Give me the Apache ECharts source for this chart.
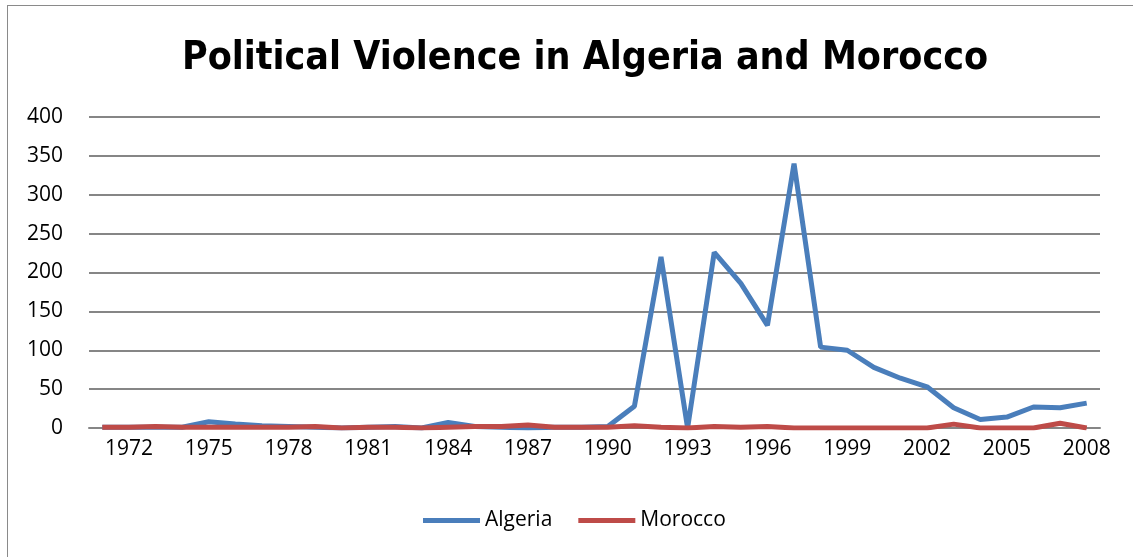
<!DOCTYPE html>
<html>
<head>
<meta charset="utf-8">
<script src="https://cdn.jsdelivr.net/npm/echarts@6/dist/echarts.min.js"></script>
<style>
html, body { margin: 0; padding: 0; background: #fff; }
#frame { position: absolute; left: 7px; top: 5px; width: 1140px; height: 560px; border: 1px solid #8a8a8a; box-sizing: border-box; }
#chart { position: absolute; left: 0; top: 0; width: 1133px; height: 557px; }
</style>
</head>
<body>
<div id="frame"></div>
<div id="chart"></div>
<script>
// years 1971 - 2008
var years = ['1971','1972','1973','1974','1975','1976','1977','1978','1979','1980',
	'1981','1982','1983','1984','1985','1986','1987','1988','1989','1990',
	'1991','1992','1993','1994','1995','1996','1997','1998','1999','2000',
	'2001','2002','2003','2004','2005','2006','2007','2008'];
var algeria = [1, 1, 1, 1, 8, 5, 3, 2, 1, 0,
	1, 2, 0, 7, 2, 1, 0, 1, 1, 2,
	28, 220, 0, 226, 186, 132, 340, 104, 100, 78,
	64, 53, 26, 11, 14, 27, 26, 32];
var morocco = [1, 1, 2, 1, 1, 1, 1, 1, 2, 0,
	1, 1, 0, 1, 2, 2, 4, 1, 1, 1,
	3, 1, 0, 2, 1, 2, 0, 0, 0, 0,
	0, 0, 5, 0, 0, 0, 6, 0];

var myChart = echarts.init(document.getElementById('chart'));
var font = '"Open Sans", "Noto Sans", sans-serif';
var option = {
	animation: false,
	title: {
		text: 'Political Violence in Algeria and Morocco',
		left: 580,
		top: 34,
		textAlign: 'center',
		textStyle: { fontFamily: '"Liberation Sans Narrow", "DejaVu Sans Condensed", sans-serif', fontWeight: 'bold', fontSize: 39, color: '#000' }
	},
	legend: {
		data: ['Algeria', 'Morocco'],
		left: 418,
		top: 505,
		icon: 'rect',
		itemWidth: 57,
		itemHeight: 5,
		itemGap: 26,
		textStyle: { fontFamily: font, fontSize: 21, color: '#000' }
	},
	grid: { left: 89, right: 33, top: 117, bottom: 129 },
	xAxis: {
		type: 'category',
		data: years,
		boundaryGap: true,
		axisLine: { lineStyle: { color: '#868686', width: 2 } },
		axisTick: { show: false },
		axisLabel: {
			interval: function (idx) { return idx % 3 === 1; },
			margin: 11,
			fontFamily: font, fontSize: 21, color: '#000'
		}
	},
	yAxis: {
		type: 'value',
		min: 0, max: 400, interval: 50,
		axisLine: { show: false },
		axisTick: { show: false },
		splitLine: { lineStyle: { color: '#868686', width: 2 } },
		axisLabel: { margin: 26, fontFamily: font, fontSize: 21, color: '#000' }
	},
	series: [{
		name: 'Algeria',
		type: 'line',
		data: algeria,
		symbol: 'none',
		color: '#4a7ebb',
		lineStyle: { width: 5, color: '#4a7ebb' }
	}, {
		name: 'Morocco',
		type: 'line',
		data: morocco,
		symbol: 'none',
		color: '#be4b48',
		lineStyle: { width: 5, color: '#be4b48' }
	}]
};
myChart.setOption(option);
</script>
</body>
</html>
